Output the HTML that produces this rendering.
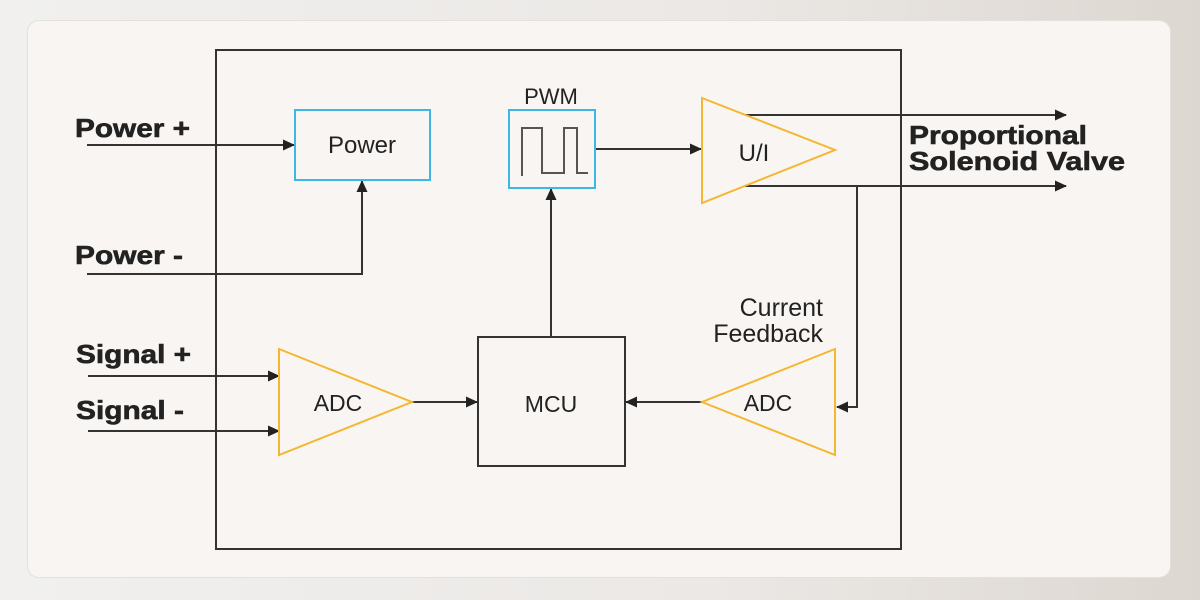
<!DOCTYPE html>
<html><head><meta charset="utf-8"><style>
html,body{margin:0;padding:0;width:1200px;height:600px;overflow:hidden;background:linear-gradient(90deg,#f1f0ef,#ebe8e5 60%,#ddd7d1);}
.card{position:absolute;left:27px;top:20px;width:1144px;height:558px;background:#f8f5f2;border-radius:12px;border:1px solid #e2dfdc;box-sizing:border-box;}
svg{position:absolute;left:0;top:0;}
</style></head><body>
<div class="card"></div>
<svg width="1200" height="600" viewBox="0 0 1200 600">
<defs><marker id="a" markerWidth="12" markerHeight="12" refX="11" refY="6" orient="auto" markerUnits="userSpaceOnUse"><path d="M0,0.5 L12,6 L0,11.5 z" fill="#222"/></marker></defs>
<g fill="none" stroke="#333" stroke-width="2">
<rect x="216" y="50" width="685" height="499"/>
<line x1="87" y1="145" x2="294" y2="145" marker-end="url(#a)"/>
<polyline points="87,274 362,274 362,181" marker-end="url(#a)"/>
<line x1="88" y1="376" x2="279" y2="376" marker-end="url(#a)"/>
<line x1="88" y1="431" x2="279" y2="431" marker-end="url(#a)"/>
<line x1="412" y1="402" x2="477" y2="402" marker-end="url(#a)"/>
<rect x="478" y="337" width="147" height="129"/>
<line x1="551" y1="337" x2="551" y2="189" marker-end="url(#a)"/>
<line x1="596" y1="149" x2="701" y2="149" marker-end="url(#a)"/>
<line x1="745" y1="115" x2="1066" y2="115" marker-end="url(#a)"/>
<line x1="745" y1="186" x2="1066" y2="186" marker-end="url(#a)"/>
<polyline points="857,186 857,407 837,407" marker-end="url(#a)"/>
<line x1="702" y1="402" x2="626" y2="402" marker-end="url(#a)"/>
</g>
<g fill="none" stroke="#3cb8e6" stroke-width="2">
<rect x="295" y="110" width="135" height="70"/>
<rect x="509" y="110" width="86" height="78"/>
</g>
<polyline points="522,176 522,128 542,128 542,173 564,173 564,128 577,128 577,173 588,173" fill="none" stroke="#555" stroke-width="2"/>
<g fill="none" stroke="#f5b731" stroke-width="2">
<polygon points="702,98 835,150 702,203"/>
<polygon points="279,349 412,402 279,455"/>
<polygon points="835,349 702,402 835,455"/>
</g>
<g font-family="Liberation Sans, sans-serif" fill="#222">
<g font-weight="bold" font-size="26" stroke="#222" stroke-width="0.6">
<text x="75" y="137" textLength="115" lengthAdjust="spacingAndGlyphs">Power +</text>
<text x="75" y="264" textLength="108" lengthAdjust="spacingAndGlyphs">Power -</text>
<text x="76" y="363" textLength="115" lengthAdjust="spacingAndGlyphs">Signal +</text>
<text x="76" y="419" textLength="108" lengthAdjust="spacingAndGlyphs">Signal -</text>
<text x="909" y="144" textLength="178" lengthAdjust="spacingAndGlyphs">Proportional</text>
<text x="909" y="170" textLength="216" lengthAdjust="spacingAndGlyphs">Solenoid Valve</text>
</g>
<text x="362" y="153" text-anchor="middle" font-size="24">Power</text>
<text x="551" y="104" text-anchor="middle" font-size="22">PWM</text>
<text x="754" y="161" text-anchor="middle" font-size="24">U/I</text>
<text x="338" y="411" text-anchor="middle" font-size="23">ADC</text>
<text x="551" y="412" text-anchor="middle" font-size="23">MCU</text>
<text x="768" y="411" text-anchor="middle" font-size="23">ADC</text>
<text x="823" y="316" text-anchor="end" font-size="25">Current</text>
<text x="823" y="342" text-anchor="end" font-size="25">Feedback</text>
</g>
</svg>
</body></html>
